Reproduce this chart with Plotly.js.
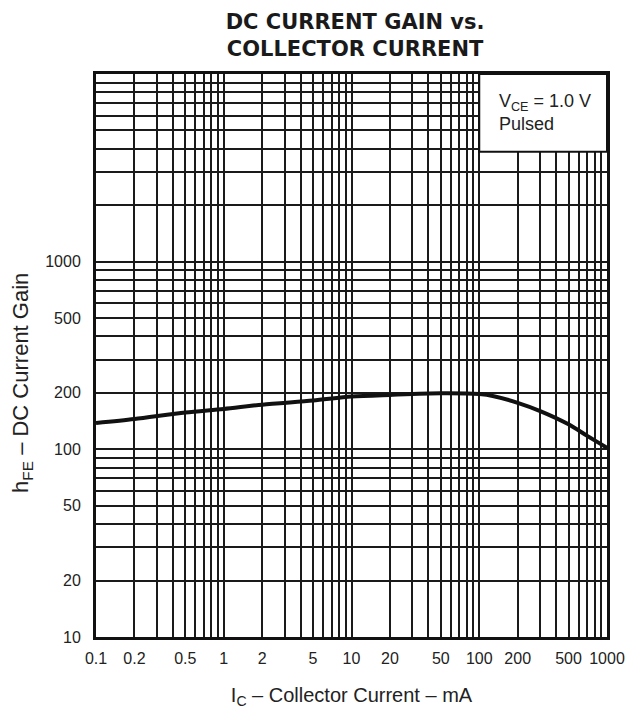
<!DOCTYPE html>
<html>
<head>
<meta charset="utf-8">
<script src="https://cdn.plot.ly/plotly-3.0.1.min.js"></script>
<style>html,body{margin:0;padding:0;background:#fff;}#chart{width:640px;height:716px;}</style>
</head>
<body>
<div id="chart"></div>
<script>
// Collector current (mA) and DC current gain
var ic  = [0.1, 0.2, 0.5, 1, 2, 5, 10, 20, 50, 100, 130, 200, 300, 500, 700, 1000];
var hfe = [138, 145, 157, 164, 173, 182, 191, 195, 199, 197, 192, 177, 160, 136, 118, 102];

// Labelled ticks
var xLabelVals = [0.1, 0.2, 0.5, 1, 2, 5, 10, 20, 50, 100, 200, 500, 1000];
var xLabelText = ["0.1","0.2","0.5","1","2","5","10","20","50","100","200","500","1000"];
var yLabelVals = [10, 20, 50, 100, 200, 500, 1000];
var yLabelText = ["10","20","50","100","200","500","1000"];
// Unlabelled grid lines
var xMinorVals = [0.3,0.4,0.6,0.7,0.8,0.9,3,4,6,7,8,9,30,40,60,70,80,90,300,400,600,700,800,900];
var yMinorVals = [30,40,60,70,80,90,300,400,600,700,800,900,2000,3000,4000,5000,6000,7000,8000,9000,10000];

var tickFont = {family: "Liberation Sans Narrow, Arial Narrow, Liberation Sans, sans-serif", size: 16, color: "#222"};
var titleFont = {family: "Liberation Sans Narrow, Arial Narrow, Liberation Sans, sans-serif", size: 20, color: "#222"};
var gridColor = "#1a1a1a";

var trace = {
  x: ic, y: hfe, type: "scatter", mode: "lines",
  line: {color: "#111", width: 4, shape: "spline", smoothing: 0.8},
  hoverinfo: "x+y", showlegend: false
};

var layout = {
  width: 640, height: 716,
  margin: {l: 96, r: 33, t: 74, b: 79},
  paper_bgcolor: "#fff", plot_bgcolor: "#fff",
  title: {
    text: "DC CURRENT GAIN vs.<br>COLLECTOR CURRENT",
    font: {family: "DejaVu Sans, sans-serif", size: 21, color: "#1a1a1a", weight: "bold"},
    xref: "paper", x: 0.507, xanchor: "center",
    yref: "container", y: 1 - 29/716, yanchor: "middle"
  },
  xaxis: {
    type: "log", range: [-1, 3],
    tickmode: "array", tickvals: xLabelVals, ticktext: xLabelText,
    showgrid: true, gridcolor: gridColor, gridwidth: 2,
    minor: {tickmode: "array", tickvals: xMinorVals, showgrid: true, gridcolor: gridColor, gridwidth: 2, ticks: ""},
    showline: true, linecolor: "#111", linewidth: 3, mirror: true,
    ticks: "", ticklabelstandoff: 5, tickfont: tickFont, zeroline: false,
    title: {text: "I<sub>C</sub> – Collector Current – mA", font: titleFont, standoff: 22}
  },
  yaxis: {
    type: "log", range: [1, 4],
    tickmode: "array", tickvals: yLabelVals, ticktext: yLabelText,
    showgrid: true, gridcolor: gridColor, gridwidth: 2,
    minor: {tickmode: "array", tickvals: yMinorVals, showgrid: true, gridcolor: gridColor, gridwidth: 2, ticks: ""},
    showline: true, linecolor: "#111", linewidth: 3, mirror: true,
    ticks: "", ticklabelstandoff: 9, tickfont: tickFont, zeroline: false
  },
  shapes: [{
    type: "rect", xref: "x", yref: "y", x0: 100, x1: 1000, y0: 3850, y1: 10000,
    fillcolor: "#fff", line: {color: "#111", width: 2}, layer: "above"
  }],
  annotations: [{
    xref: "paper", yref: "paper", x: 0.785, y: 0.974, xanchor: "left", yanchor: "top",
    align: "left", showarrow: false,
    text: "V<sub>CE</sub> = 1.0 V<br>Pulsed",
    font: {family: "Liberation Sans Narrow, Arial Narrow, Liberation Sans, sans-serif", size: 18, color: "#222"}
  }, {
    // y-axis title, placed where the reference shows it (lower than centre)
    xref: "paper", yref: "paper", x: -0.145, y: (637 - 383) / 563,
    xanchor: "center", yanchor: "middle", textangle: -90, showarrow: false,
    text: "h<sub>FE</sub> – DC Current Gain",
    font: {family: "Liberation Sans Narrow, Arial Narrow, Liberation Sans, sans-serif", size: 22, color: "#222"}
  }]
};

Plotly.newPlot("chart", [trace], layout, {staticPlot: true});
</script>
</body>
</html>
